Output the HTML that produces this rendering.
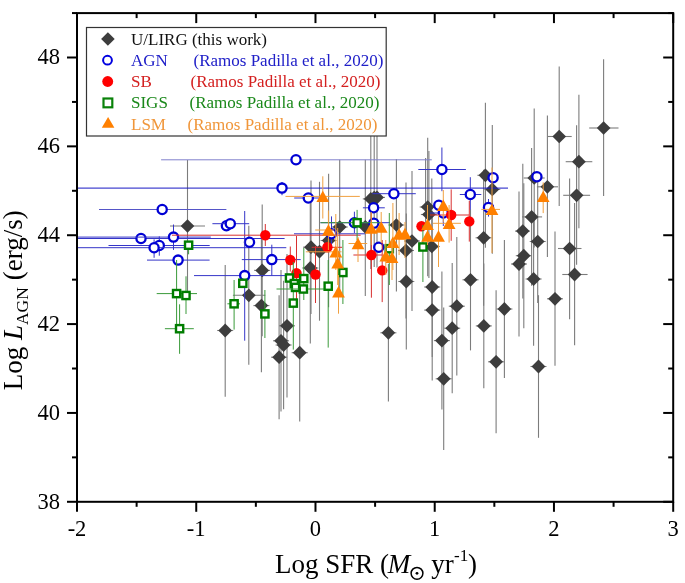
<!DOCTYPE html>
<html><head><meta charset="utf-8"><style>
html,body{margin:0;padding:0;background:#fff;}
svg{display:block;will-change:transform;}
text{font-family:"Liberation Serif",serif;}
.tl{font-size:22.5px;fill:#000;}
.lg{font-size:17px;}
.at{font-size:27px;fill:#000;}
.sub{font-size:17px;}
</style></head><body>
<svg width="685" height="583" viewBox="0 0 685 583">
<rect width="685" height="583" fill="#fff"/>
<g id="data">
<g>
<line x1="187.5" y1="160" x2="187.5" y2="292" stroke="#7c7c7c" stroke-width="1.1"/>
<line x1="170" y1="226" x2="205" y2="226" stroke="#7c7c7c" stroke-width="1.1"/>
<line x1="559.2" y1="66.4" x2="559.2" y2="206" stroke="#7c7c7c" stroke-width="1.1"/>
<line x1="547.7" y1="136.5" x2="571.7" y2="136.5" stroke="#7c7c7c" stroke-width="1.1"/>
<line x1="603.6" y1="59.2" x2="603.6" y2="196" stroke="#7c7c7c" stroke-width="1.1"/>
<line x1="589.2" y1="128" x2="618.5" y2="128" stroke="#7c7c7c" stroke-width="1.1"/>
<line x1="578.9" y1="94.7" x2="578.9" y2="228.3" stroke="#7c7c7c" stroke-width="1.1"/>
<line x1="565.7" y1="161.7" x2="592.3" y2="161.7" stroke="#7c7c7c" stroke-width="1.1"/>
<line x1="576.6" y1="125.2" x2="576.6" y2="264.8" stroke="#7c7c7c" stroke-width="1.1"/>
<line x1="563.2" y1="195.3" x2="590.1" y2="195.3" stroke="#7c7c7c" stroke-width="1.1"/>
<line x1="569.6" y1="178.4" x2="569.6" y2="319.2" stroke="#7c7c7c" stroke-width="1.1"/>
<line x1="558" y1="248.5" x2="581.5" y2="248.5" stroke="#7c7c7c" stroke-width="1.1"/>
<line x1="574.6" y1="202.9" x2="574.6" y2="345.2" stroke="#7c7c7c" stroke-width="1.1"/>
<line x1="562.3" y1="274.5" x2="587.6" y2="274.5" stroke="#7c7c7c" stroke-width="1.1"/>
<line x1="555" y1="231.5" x2="555" y2="365.7" stroke="#7c7c7c" stroke-width="1.1"/>
<line x1="547" y1="298.8" x2="563" y2="298.8" stroke="#7c7c7c" stroke-width="1.1"/>
<line x1="485.4" y1="102.8" x2="485.4" y2="247.8" stroke="#7c7c7c" stroke-width="1.1"/>
<line x1="477.4" y1="175.3" x2="493.4" y2="175.3" stroke="#7c7c7c" stroke-width="1.1"/>
<line x1="492.3" y1="125" x2="492.3" y2="253.8" stroke="#7c7c7c" stroke-width="1.1"/>
<line x1="484.3" y1="189.4" x2="500.3" y2="189.4" stroke="#7c7c7c" stroke-width="1.1"/>
<line x1="534.2" y1="108.6" x2="534.2" y2="247.4" stroke="#7c7c7c" stroke-width="1.1"/>
<line x1="523.7" y1="178" x2="544.7" y2="178" stroke="#7c7c7c" stroke-width="1.1"/>
<line x1="547.4" y1="115.4" x2="547.4" y2="257" stroke="#7c7c7c" stroke-width="1.1"/>
<line x1="536.9" y1="186.8" x2="558" y2="186.8" stroke="#7c7c7c" stroke-width="1.1"/>
<line x1="531.6" y1="148" x2="531.6" y2="285.8" stroke="#7c7c7c" stroke-width="1.1"/>
<line x1="522" y1="216.9" x2="542.1" y2="216.9" stroke="#7c7c7c" stroke-width="1.1"/>
<line x1="522.8" y1="163.7" x2="522.8" y2="298.5" stroke="#7c7c7c" stroke-width="1.1"/>
<line x1="515" y1="231.1" x2="529.9" y2="231.1" stroke="#7c7c7c" stroke-width="1.1"/>
<line x1="537.7" y1="180" x2="537.7" y2="303" stroke="#7c7c7c" stroke-width="1.1"/>
<line x1="529.7" y1="241.5" x2="545.7" y2="241.5" stroke="#7c7c7c" stroke-width="1.1"/>
<line x1="523.8" y1="183.2" x2="523.8" y2="328.2" stroke="#7c7c7c" stroke-width="1.1"/>
<line x1="515.8" y1="255.7" x2="531.8" y2="255.7" stroke="#7c7c7c" stroke-width="1.1"/>
<line x1="519" y1="191.6" x2="519" y2="336.4" stroke="#7c7c7c" stroke-width="1.1"/>
<line x1="511" y1="264" x2="527" y2="264" stroke="#7c7c7c" stroke-width="1.1"/>
<line x1="533.6" y1="212.3" x2="533.6" y2="345.7" stroke="#7c7c7c" stroke-width="1.1"/>
<line x1="525.6" y1="279" x2="541.6" y2="279" stroke="#7c7c7c" stroke-width="1.1"/>
<line x1="483.6" y1="169.8" x2="483.6" y2="305.8" stroke="#7c7c7c" stroke-width="1.1"/>
<line x1="475.6" y1="237.8" x2="491.6" y2="237.8" stroke="#7c7c7c" stroke-width="1.1"/>
<line x1="470.5" y1="209.2" x2="470.5" y2="350.4" stroke="#7c7c7c" stroke-width="1.1"/>
<line x1="462.5" y1="279.8" x2="478.5" y2="279.8" stroke="#7c7c7c" stroke-width="1.1"/>
<line x1="456.8" y1="236.9" x2="456.8" y2="375.5" stroke="#7c7c7c" stroke-width="1.1"/>
<line x1="448.8" y1="306.2" x2="464.8" y2="306.2" stroke="#7c7c7c" stroke-width="1.1"/>
<line x1="452.2" y1="263.1" x2="452.2" y2="393.3" stroke="#7c7c7c" stroke-width="1.1"/>
<line x1="444.2" y1="328.2" x2="460.2" y2="328.2" stroke="#7c7c7c" stroke-width="1.1"/>
<line x1="441.9" y1="271.6" x2="441.9" y2="409.6" stroke="#7c7c7c" stroke-width="1.1"/>
<line x1="433.9" y1="340.6" x2="449.9" y2="340.6" stroke="#7c7c7c" stroke-width="1.1"/>
<line x1="443.7" y1="307.6" x2="443.7" y2="450" stroke="#7c7c7c" stroke-width="1.1"/>
<line x1="435.7" y1="378.8" x2="451.7" y2="378.8" stroke="#7c7c7c" stroke-width="1.1"/>
<line x1="432.2" y1="217" x2="432.2" y2="357" stroke="#7c7c7c" stroke-width="1.1"/>
<line x1="424.2" y1="287" x2="440.2" y2="287" stroke="#7c7c7c" stroke-width="1.1"/>
<line x1="432.2" y1="239.6" x2="432.2" y2="380.6" stroke="#7c7c7c" stroke-width="1.1"/>
<line x1="424.2" y1="310.1" x2="440.2" y2="310.1" stroke="#7c7c7c" stroke-width="1.1"/>
<line x1="504.4" y1="240.1" x2="504.4" y2="377.9" stroke="#7c7c7c" stroke-width="1.1"/>
<line x1="496.4" y1="309" x2="512.4" y2="309" stroke="#7c7c7c" stroke-width="1.1"/>
<line x1="483.8" y1="263.6" x2="483.8" y2="388.2" stroke="#7c7c7c" stroke-width="1.1"/>
<line x1="475.8" y1="325.9" x2="491.8" y2="325.9" stroke="#7c7c7c" stroke-width="1.1"/>
<line x1="496.1" y1="290.3" x2="496.1" y2="433.3" stroke="#7c7c7c" stroke-width="1.1"/>
<line x1="488.1" y1="361.8" x2="504.1" y2="361.8" stroke="#7c7c7c" stroke-width="1.1"/>
<line x1="538.5" y1="295.2" x2="538.5" y2="437.8" stroke="#7c7c7c" stroke-width="1.1"/>
<line x1="530.5" y1="366.5" x2="546.5" y2="366.5" stroke="#7c7c7c" stroke-width="1.1"/>
<line x1="388.4" y1="264" x2="388.4" y2="401.6" stroke="#7c7c7c" stroke-width="1.1"/>
<line x1="380.4" y1="332.8" x2="396.4" y2="332.8" stroke="#7c7c7c" stroke-width="1.1"/>
<line x1="406.3" y1="213.5" x2="406.3" y2="349.5" stroke="#7c7c7c" stroke-width="1.1"/>
<line x1="398.3" y1="281.5" x2="414.3" y2="281.5" stroke="#7c7c7c" stroke-width="1.1"/>
<line x1="406" y1="182.4" x2="406" y2="318.6" stroke="#7c7c7c" stroke-width="1.1"/>
<line x1="398" y1="250.5" x2="414" y2="250.5" stroke="#7c7c7c" stroke-width="1.1"/>
<line x1="412" y1="171" x2="412" y2="311" stroke="#7c7c7c" stroke-width="1.1"/>
<line x1="404" y1="241" x2="420" y2="241" stroke="#7c7c7c" stroke-width="1.1"/>
<line x1="427.7" y1="137.8" x2="427.7" y2="276.2" stroke="#7c7c7c" stroke-width="1.1"/>
<line x1="419.7" y1="207" x2="435.7" y2="207" stroke="#7c7c7c" stroke-width="1.1"/>
<line x1="428.9" y1="150.9" x2="428.9" y2="278" stroke="#7c7c7c" stroke-width="1.1"/>
<line x1="420.9" y1="214.5" x2="436.9" y2="214.5" stroke="#7c7c7c" stroke-width="1.1"/>
<line x1="431.8" y1="178.5" x2="431.8" y2="314.5" stroke="#7c7c7c" stroke-width="1.1"/>
<line x1="423.8" y1="246.5" x2="439.8" y2="246.5" stroke="#7c7c7c" stroke-width="1.1"/>
<line x1="396.4" y1="159.1" x2="396.4" y2="291.4" stroke="#7c7c7c" stroke-width="1.1"/>
<line x1="388.4" y1="225" x2="404.4" y2="225" stroke="#7c7c7c" stroke-width="1.1"/>
<line x1="370.8" y1="128.9" x2="370.8" y2="268.9" stroke="#7c7c7c" stroke-width="1.1"/>
<line x1="362.8" y1="198.9" x2="378.8" y2="198.9" stroke="#7c7c7c" stroke-width="1.1"/>
<line x1="377" y1="127.4" x2="377" y2="267.4" stroke="#7c7c7c" stroke-width="1.1"/>
<line x1="369" y1="197.4" x2="385" y2="197.4" stroke="#7c7c7c" stroke-width="1.1"/>
<line x1="374.2" y1="128" x2="374.2" y2="267" stroke="#7c7c7c" stroke-width="1.1"/>
<line x1="366.2" y1="197.6" x2="382.2" y2="197.6" stroke="#7c7c7c" stroke-width="1.1"/>
<line x1="365.3" y1="159.7" x2="365.3" y2="296.1" stroke="#7c7c7c" stroke-width="1.1"/>
<line x1="357.3" y1="226.8" x2="373.3" y2="226.8" stroke="#7c7c7c" stroke-width="1.1"/>
<line x1="339.7" y1="159.7" x2="339.7" y2="294.3" stroke="#7c7c7c" stroke-width="1.1"/>
<line x1="331.7" y1="227" x2="347.7" y2="227" stroke="#7c7c7c" stroke-width="1.1"/>
<line x1="328.6" y1="173.8" x2="328.6" y2="307.2" stroke="#7c7c7c" stroke-width="1.1"/>
<line x1="320.6" y1="240.5" x2="336.6" y2="240.5" stroke="#7c7c7c" stroke-width="1.1"/>
<line x1="311" y1="180.4" x2="311" y2="314" stroke="#7c7c7c" stroke-width="1.1"/>
<line x1="303" y1="247.2" x2="319" y2="247.2" stroke="#7c7c7c" stroke-width="1.1"/>
<line x1="319.5" y1="181.8" x2="319.5" y2="320.7" stroke="#7c7c7c" stroke-width="1.1"/>
<line x1="311.5" y1="251.6" x2="327.5" y2="251.6" stroke="#7c7c7c" stroke-width="1.1"/>
<line x1="310.3" y1="192.6" x2="310.3" y2="343.4" stroke="#7c7c7c" stroke-width="1.1"/>
<line x1="302.3" y1="268" x2="318.3" y2="268" stroke="#7c7c7c" stroke-width="1.1"/>
<line x1="262.2" y1="204.5" x2="262.2" y2="336.3" stroke="#7c7c7c" stroke-width="1.1"/>
<line x1="254.2" y1="270.4" x2="270.2" y2="270.4" stroke="#7c7c7c" stroke-width="1.1"/>
<line x1="248.8" y1="225.8" x2="248.8" y2="364.8" stroke="#7c7c7c" stroke-width="1.1"/>
<line x1="232.9" y1="295.3" x2="265.3" y2="295.3" stroke="#7c7c7c" stroke-width="1.1"/>
<line x1="261.4" y1="239" x2="261.4" y2="372.2" stroke="#7c7c7c" stroke-width="1.1"/>
<line x1="253.39999999999998" y1="305.6" x2="269.4" y2="305.6" stroke="#7c7c7c" stroke-width="1.1"/>
<line x1="287" y1="254.1" x2="287" y2="397.5" stroke="#7c7c7c" stroke-width="1.1"/>
<line x1="279" y1="325.8" x2="295" y2="325.8" stroke="#7c7c7c" stroke-width="1.1"/>
<line x1="281" y1="270.1" x2="281" y2="411.5" stroke="#7c7c7c" stroke-width="1.1"/>
<line x1="273" y1="340.8" x2="289" y2="340.8" stroke="#7c7c7c" stroke-width="1.1"/>
<line x1="283.6" y1="280.8" x2="283.6" y2="409.2" stroke="#7c7c7c" stroke-width="1.1"/>
<line x1="275.6" y1="345" x2="291.6" y2="345" stroke="#7c7c7c" stroke-width="1.1"/>
<line x1="279.1" y1="295.2" x2="279.1" y2="419.3" stroke="#7c7c7c" stroke-width="1.1"/>
<line x1="271.1" y1="357.2" x2="287.1" y2="357.2" stroke="#7c7c7c" stroke-width="1.1"/>
<line x1="299.7" y1="283.8" x2="299.7" y2="421.6" stroke="#7c7c7c" stroke-width="1.1"/>
<line x1="291.7" y1="352.7" x2="307.7" y2="352.7" stroke="#7c7c7c" stroke-width="1.1"/>
<line x1="225.2" y1="265" x2="225.2" y2="396.7" stroke="#7c7c7c" stroke-width="1.1"/>
<line x1="217.2" y1="330.5" x2="233.2" y2="330.5" stroke="#7c7c7c" stroke-width="1.1"/>
<line x1="425.6" y1="158" x2="425.6" y2="226" stroke="#7c7c7c" stroke-width="1.1"/>
<path d="M187.5 219.2L194.3 226L187.5 232.8L180.7 226Z" fill="#3d3d3d"/>
<path d="M559.2 129.7L566.1 136.5L559.2 143.3L552.4 136.5Z" fill="#3d3d3d"/>
<path d="M603.6 121.2L610.5 128L603.6 134.8L596.8 128Z" fill="#3d3d3d"/>
<path d="M578.9 154.8L585.8 161.7L578.9 168.5L572.0 161.7Z" fill="#3d3d3d"/>
<path d="M576.6 188.5L583.5 195.3L576.6 202.2L569.8 195.3Z" fill="#3d3d3d"/>
<path d="M569.6 241.7L576.5 248.5L569.6 255.3L562.8 248.5Z" fill="#3d3d3d"/>
<path d="M574.6 267.6L581.5 274.5L574.6 281.4L567.8 274.5Z" fill="#3d3d3d"/>
<path d="M555 291.9L561.9 298.8L555 305.7L548.1 298.8Z" fill="#3d3d3d"/>
<path d="M485.4 168.5L492.2 175.3L485.4 182.2L478.5 175.3Z" fill="#3d3d3d"/>
<path d="M492.3 182.6L499.2 189.4L492.3 196.2L485.4 189.4Z" fill="#3d3d3d"/>
<path d="M534.2 171.2L541.1 178L534.2 184.8L527.4 178Z" fill="#3d3d3d"/>
<path d="M547.4 180.0L554.2 186.8L547.4 193.7L540.5 186.8Z" fill="#3d3d3d"/>
<path d="M531.6 210.1L538.5 216.9L531.6 223.8L524.8 216.9Z" fill="#3d3d3d"/>
<path d="M522.8 224.2L529.6 231.1L522.8 237.9L515.9 231.1Z" fill="#3d3d3d"/>
<path d="M537.7 234.7L544.6 241.5L537.7 248.3L530.9 241.5Z" fill="#3d3d3d"/>
<path d="M523.8 248.8L530.6 255.7L523.8 262.6L516.9 255.7Z" fill="#3d3d3d"/>
<path d="M519 257.1L525.9 264L519 270.9L512.1 264Z" fill="#3d3d3d"/>
<path d="M533.6 272.1L540.5 279L533.6 285.9L526.8 279Z" fill="#3d3d3d"/>
<path d="M483.6 231.0L490.5 237.8L483.6 244.7L476.8 237.8Z" fill="#3d3d3d"/>
<path d="M470.5 272.9L477.4 279.8L470.5 286.7L463.6 279.8Z" fill="#3d3d3d"/>
<path d="M456.8 299.3L463.7 306.2L456.8 313.1L449.9 306.2Z" fill="#3d3d3d"/>
<path d="M452.2 321.3L459.1 328.2L452.2 335.1L445.3 328.2Z" fill="#3d3d3d"/>
<path d="M441.9 333.8L448.8 340.6L441.9 347.5L435.0 340.6Z" fill="#3d3d3d"/>
<path d="M443.7 371.9L450.6 378.8L443.7 385.7L436.8 378.8Z" fill="#3d3d3d"/>
<path d="M432.2 280.1L439.1 287L432.2 293.9L425.3 287Z" fill="#3d3d3d"/>
<path d="M432.2 303.2L439.1 310.1L432.2 317.0L425.3 310.1Z" fill="#3d3d3d"/>
<path d="M504.4 302.1L511.2 309L504.4 315.9L497.5 309Z" fill="#3d3d3d"/>
<path d="M483.8 319.0L490.7 325.9L483.8 332.8L476.9 325.9Z" fill="#3d3d3d"/>
<path d="M496.1 354.9L503.0 361.8L496.1 368.7L489.2 361.8Z" fill="#3d3d3d"/>
<path d="M538.5 359.6L545.4 366.5L538.5 373.4L531.6 366.5Z" fill="#3d3d3d"/>
<path d="M388.4 325.9L395.2 332.8L388.4 339.7L381.5 332.8Z" fill="#3d3d3d"/>
<path d="M406.3 274.6L413.2 281.5L406.3 288.4L399.4 281.5Z" fill="#3d3d3d"/>
<path d="M406 243.7L412.9 250.5L406 257.4L399.1 250.5Z" fill="#3d3d3d"/>
<path d="M412 234.2L418.9 241L412 247.8L405.1 241Z" fill="#3d3d3d"/>
<path d="M427.7 200.2L434.6 207L427.7 213.8L420.8 207Z" fill="#3d3d3d"/>
<path d="M428.9 207.7L435.8 214.5L428.9 221.3L422.0 214.5Z" fill="#3d3d3d"/>
<path d="M431.8 239.7L438.7 246.5L431.8 253.3L424.9 246.5Z" fill="#3d3d3d"/>
<path d="M396.4 218.2L403.2 225L396.4 231.8L389.5 225Z" fill="#3d3d3d"/>
<path d="M370.8 192.1L377.7 198.9L370.8 205.8L363.9 198.9Z" fill="#3d3d3d"/>
<path d="M377 190.6L383.9 197.4L377 204.2L370.1 197.4Z" fill="#3d3d3d"/>
<path d="M374.2 190.8L381.1 197.6L374.2 204.4L367.3 197.6Z" fill="#3d3d3d"/>
<path d="M365.3 220.0L372.2 226.8L365.3 233.7L358.4 226.8Z" fill="#3d3d3d"/>
<path d="M339.7 220.2L346.6 227L339.7 233.8L332.8 227Z" fill="#3d3d3d"/>
<path d="M328.6 233.7L335.5 240.5L328.6 247.3L321.8 240.5Z" fill="#3d3d3d"/>
<path d="M311 240.3L317.9 247.2L311 254.0L304.1 247.2Z" fill="#3d3d3d"/>
<path d="M319.5 244.8L326.4 251.6L319.5 258.4L312.6 251.6Z" fill="#3d3d3d"/>
<path d="M310.3 261.1L317.2 268L310.3 274.9L303.4 268Z" fill="#3d3d3d"/>
<path d="M262.2 263.5L269.1 270.4L262.2 277.2L255.3 270.4Z" fill="#3d3d3d"/>
<path d="M248.8 288.4L255.7 295.3L248.8 302.2L242.0 295.3Z" fill="#3d3d3d"/>
<path d="M261.4 298.8L268.2 305.6L261.4 312.5L254.5 305.6Z" fill="#3d3d3d"/>
<path d="M287 318.9L293.9 325.8L287 332.7L280.1 325.8Z" fill="#3d3d3d"/>
<path d="M281 333.9L287.9 340.8L281 347.7L274.1 340.8Z" fill="#3d3d3d"/>
<path d="M283.6 338.1L290.5 345L283.6 351.9L276.8 345Z" fill="#3d3d3d"/>
<path d="M279.1 350.3L286.0 357.2L279.1 364.1L272.2 357.2Z" fill="#3d3d3d"/>
<path d="M299.7 345.8L306.6 352.7L299.7 359.6L292.8 352.7Z" fill="#3d3d3d"/>
<path d="M225.2 323.6L232.0 330.5L225.2 337.4L218.3 330.5Z" fill="#3d3d3d"/>
</g>
<g>
<line x1="161.1" y1="159.8" x2="431.8" y2="159.8" stroke="#8080cc" stroke-width="1.0"/>
<circle cx="296" cy="159.8" r="4.6" fill="#fff" stroke="#0000d4" stroke-width="2.3"/>
<line x1="282" y1="182" x2="282" y2="195.2" stroke="#1818c4" stroke-width="1.0"/>
<line x1="77" y1="188.1" x2="508" y2="188.1" stroke="#1818c4" stroke-width="1.0"/>
<circle cx="282" cy="188.1" r="4.6" fill="#fff" stroke="#0000d4" stroke-width="2.3"/>
<line x1="294.2" y1="198" x2="322" y2="198" stroke="#3535c8" stroke-width="1.0"/>
<circle cx="308.3" cy="198" r="4.6" fill="#fff" stroke="#0000d4" stroke-width="2.3"/>
<line x1="99" y1="209.5" x2="226.4" y2="209.5" stroke="#5555c8" stroke-width="1.0"/>
<circle cx="162.2" cy="209.5" r="4.6" fill="#fff" stroke="#0000d4" stroke-width="2.3"/>
<circle cx="226.4" cy="225.8" r="4.6" fill="#fff" stroke="#0000d4" stroke-width="2.3"/>
<line x1="212.4" y1="223.7" x2="249.2" y2="223.7" stroke="#3535c8" stroke-width="1.0"/>
<circle cx="230.3" cy="223.7" r="4.6" fill="#fff" stroke="#0000d4" stroke-width="2.3"/>
<line x1="77" y1="238.5" x2="284.6" y2="238.5" stroke="#3535c8" stroke-width="1.0"/>
<circle cx="141" cy="238.5" r="4.6" fill="#fff" stroke="#0000d4" stroke-width="2.3"/>
<line x1="173.5" y1="224.5" x2="173.5" y2="249.9" stroke="#3535c8" stroke-width="1.0"/>
<line x1="77" y1="237.1" x2="210.8" y2="237.1" stroke="#3535c8" stroke-width="1.0"/>
<circle cx="173.5" cy="237.1" r="4.6" fill="#fff" stroke="#0000d4" stroke-width="2.3"/>
<line x1="159.3" y1="236.4" x2="159.3" y2="255.7" stroke="#3535c8" stroke-width="1.0"/>
<line x1="108.5" y1="245.5" x2="209.7" y2="245.5" stroke="#3535c8" stroke-width="1.0"/>
<circle cx="159.3" cy="245.5" r="4.6" fill="#fff" stroke="#0000d4" stroke-width="2.3"/>
<line x1="154.1" y1="239.4" x2="154.1" y2="257.8" stroke="#3535c8" stroke-width="1.0"/>
<line x1="77" y1="247.7" x2="286.3" y2="247.7" stroke="#3535c8" stroke-width="1.0"/>
<circle cx="154.1" cy="247.7" r="4.6" fill="#fff" stroke="#0000d4" stroke-width="2.3"/>
<line x1="147" y1="260.1" x2="209.6" y2="260.1" stroke="#3535c8" stroke-width="1.0"/>
<circle cx="178.1" cy="260.1" r="4.6" fill="#fff" stroke="#0000d4" stroke-width="2.3"/>
<circle cx="249.5" cy="242.3" r="4.6" fill="#fff" stroke="#0000d4" stroke-width="2.3"/>
<line x1="271.8" y1="244.7" x2="271.8" y2="275.6" stroke="#3535c8" stroke-width="1.0"/>
<line x1="241.8" y1="259.6" x2="300.7" y2="259.6" stroke="#3535c8" stroke-width="1.0"/>
<circle cx="271.8" cy="259.6" r="4.6" fill="#fff" stroke="#0000d4" stroke-width="2.3"/>
<line x1="244.7" y1="211" x2="244.7" y2="340.7" stroke="#3535c8" stroke-width="1.0"/>
<line x1="194" y1="275.6" x2="286.7" y2="275.6" stroke="#3535c8" stroke-width="1.0"/>
<circle cx="244.7" cy="275.6" r="4.6" fill="#fff" stroke="#0000d4" stroke-width="2.3"/>
<line x1="362.9" y1="207.8" x2="384.8" y2="207.8" stroke="#3535c8" stroke-width="1.0"/>
<circle cx="373.6" cy="207.8" r="4.6" fill="#fff" stroke="#0000d4" stroke-width="2.3"/>
<line x1="372.3" y1="193.7" x2="415.8" y2="193.7" stroke="#3535c8" stroke-width="1.0"/>
<circle cx="393.9" cy="193.7" r="4.6" fill="#fff" stroke="#0000d4" stroke-width="2.3"/>
<line x1="354.4" y1="211.7" x2="354.4" y2="233" stroke="#3535c8" stroke-width="1.0"/>
<line x1="320.4" y1="222.7" x2="390" y2="222.7" stroke="#3535c8" stroke-width="1.0"/>
<circle cx="354.4" cy="222.7" r="4.6" fill="#fff" stroke="#0000d4" stroke-width="2.3"/>
<circle cx="373.8" cy="223.3" r="4.6" fill="#fff" stroke="#0000d4" stroke-width="2.3"/>
<circle cx="378.8" cy="247.2" r="4.6" fill="#fff" stroke="#0000d4" stroke-width="2.3"/>
<line x1="331.5" y1="216.4" x2="331.5" y2="250" stroke="#3535c8" stroke-width="1.0"/>
<line x1="294" y1="233.8" x2="365.4" y2="233.8" stroke="#3535c8" stroke-width="1.0"/>
<circle cx="331.5" cy="233.8" r="4.6" fill="#fff" stroke="#0000d4" stroke-width="2.3"/>
<line x1="441.9" y1="147.5" x2="441.9" y2="191.2" stroke="#3535c8" stroke-width="1.0"/>
<line x1="418.3" y1="169.5" x2="465.9" y2="169.5" stroke="#3535c8" stroke-width="1.0"/>
<circle cx="441.9" cy="169.5" r="4.6" fill="#fff" stroke="#0000d4" stroke-width="2.3"/>
<line x1="470.3" y1="177.2" x2="470.3" y2="209.6" stroke="#3535c8" stroke-width="1.0"/>
<line x1="459.8" y1="194.5" x2="481.3" y2="194.5" stroke="#3535c8" stroke-width="1.0"/>
<circle cx="470.3" cy="194.5" r="4.6" fill="#fff" stroke="#0000d4" stroke-width="2.3"/>
<circle cx="493.1" cy="177.8" r="4.6" fill="#fff" stroke="#0000d4" stroke-width="2.3"/>
<circle cx="536.9" cy="176.8" r="4.6" fill="#fff" stroke="#0000d4" stroke-width="2.3"/>
<circle cx="438.8" cy="205.2" r="4.6" fill="#fff" stroke="#0000d4" stroke-width="2.3"/>
<line x1="443.3" y1="205" x2="443.3" y2="226" stroke="#3535c8" stroke-width="1.0"/>
<line x1="430" y1="213" x2="456" y2="213" stroke="#3535c8" stroke-width="1.0"/>
<circle cx="443.3" cy="213" r="4.6" fill="#fff" stroke="#0000d4" stroke-width="2.3"/>
<line x1="488.5" y1="199" x2="488.5" y2="216.6" stroke="#3535c8" stroke-width="1.0"/>
<circle cx="488.5" cy="207.5" r="4.6" fill="#fff" stroke="#0000d4" stroke-width="2.3"/>
</g>
<g>
<line x1="265.3" y1="224" x2="265.3" y2="246" stroke="#d83030" stroke-width="1.0"/>
<line x1="172" y1="235.2" x2="360.7" y2="235.2" stroke="#d83030" stroke-width="1.0"/>
<circle cx="265.3" cy="235.2" r="5.2" fill="#ff0000"/>
<line x1="290.3" y1="246.5" x2="290.3" y2="271.5" stroke="#d83030" stroke-width="1.0"/>
<circle cx="290.3" cy="260" r="5.2" fill="#ff0000"/>
<line x1="296.5" y1="236" x2="296.5" y2="300" stroke="#d83030" stroke-width="1.0"/>
<circle cx="296.5" cy="273.1" r="5.2" fill="#ff0000"/>
<line x1="315.5" y1="246" x2="315.5" y2="303" stroke="#d83030" stroke-width="1.0"/>
<circle cx="315.5" cy="274.5" r="5.2" fill="#ff0000"/>
<line x1="311.7" y1="247.3" x2="342" y2="247.3" stroke="#d83030" stroke-width="1.0"/>
<circle cx="327.4" cy="247.3" r="5.2" fill="#ff0000"/>
<line x1="371.4" y1="213" x2="371.4" y2="297.7" stroke="#d83030" stroke-width="1.0"/>
<line x1="353.4" y1="255" x2="382.3" y2="255" stroke="#d83030" stroke-width="1.0"/>
<circle cx="371.4" cy="255" r="5.2" fill="#ff0000"/>
<line x1="382.2" y1="240" x2="382.2" y2="302.1" stroke="#d83030" stroke-width="1.0"/>
<circle cx="382.2" cy="270.4" r="5.2" fill="#ff0000"/>
<circle cx="421.5" cy="226.3" r="5.2" fill="#ff0000"/>
<line x1="451.2" y1="189.4" x2="451.2" y2="240.8" stroke="#d83030" stroke-width="1.0"/>
<line x1="430" y1="215" x2="469" y2="215" stroke="#d83030" stroke-width="1.0"/>
<circle cx="451.2" cy="215" r="5.2" fill="#ff0000"/>
<line x1="469.3" y1="200.8" x2="469.3" y2="241.6" stroke="#d83030" stroke-width="1.0"/>
<circle cx="469.3" cy="221.4" r="5.2" fill="#ff0000"/>
</g>
<g>
<line x1="188.6" y1="245.2" x2="188.6" y2="254.3" stroke="#3a9a3a" stroke-width="1.0"/>
<rect x="185.00" y="241.60" width="7.2" height="7.2" fill="#fff" stroke="#007d00" stroke-width="2.4"/>
<line x1="176.6" y1="260" x2="176.6" y2="325" stroke="#3a9a3a" stroke-width="1.0"/>
<line x1="156.7" y1="293.6" x2="197" y2="293.6" stroke="#3a9a3a" stroke-width="1.0"/>
<rect x="173.00" y="290.00" width="7.2" height="7.2" fill="#fff" stroke="#007d00" stroke-width="2.4"/>
<line x1="186" y1="276.3" x2="186" y2="314" stroke="#3a9a3a" stroke-width="1.0"/>
<rect x="182.40" y="291.90" width="7.2" height="7.2" fill="#fff" stroke="#007d00" stroke-width="2.4"/>
<line x1="179.6" y1="304.3" x2="179.6" y2="353.8" stroke="#3a9a3a" stroke-width="1.0"/>
<line x1="164.9" y1="328.7" x2="193.8" y2="328.7" stroke="#3a9a3a" stroke-width="1.0"/>
<rect x="176.00" y="325.10" width="7.2" height="7.2" fill="#fff" stroke="#007d00" stroke-width="2.4"/>
<rect x="239.20" y="279.70" width="7.2" height="7.2" fill="#fff" stroke="#007d00" stroke-width="2.4"/>
<line x1="234.1" y1="280" x2="234.1" y2="329.6" stroke="#3a9a3a" stroke-width="1.0"/>
<line x1="227.4" y1="303.8" x2="240" y2="303.8" stroke="#3a9a3a" stroke-width="1.0"/>
<rect x="230.50" y="300.20" width="7.2" height="7.2" fill="#fff" stroke="#007d00" stroke-width="2.4"/>
<line x1="264.9" y1="290" x2="264.9" y2="338" stroke="#3a9a3a" stroke-width="1.0"/>
<rect x="261.30" y="310.30" width="7.2" height="7.2" fill="#fff" stroke="#007d00" stroke-width="2.4"/>
<line x1="293.3" y1="262" x2="293.3" y2="349.6" stroke="#3a9a3a" stroke-width="1.0"/>
<rect x="289.70" y="299.50" width="7.2" height="7.2" fill="#fff" stroke="#007d00" stroke-width="2.4"/>
<rect x="285.90" y="274.40" width="7.2" height="7.2" fill="#fff" stroke="#007d00" stroke-width="2.4"/>
<rect x="290.70" y="280.00" width="7.2" height="7.2" fill="#fff" stroke="#007d00" stroke-width="2.4"/>
<rect x="291.90" y="283.80" width="7.2" height="7.2" fill="#fff" stroke="#007d00" stroke-width="2.4"/>
<line x1="303.8" y1="248" x2="303.8" y2="300" stroke="#3a9a3a" stroke-width="1.0"/>
<rect x="300.20" y="275.00" width="7.2" height="7.2" fill="#fff" stroke="#007d00" stroke-width="2.4"/>
<line x1="276.5" y1="289" x2="330" y2="289" stroke="#3a9a3a" stroke-width="1.0"/>
<rect x="299.80" y="285.40" width="7.2" height="7.2" fill="#fff" stroke="#007d00" stroke-width="2.4"/>
<line x1="328.2" y1="260" x2="328.2" y2="347.6" stroke="#3a9a3a" stroke-width="1.0"/>
<rect x="324.60" y="282.60" width="7.2" height="7.2" fill="#fff" stroke="#007d00" stroke-width="2.4"/>
<line x1="342.9" y1="240" x2="342.9" y2="304" stroke="#3a9a3a" stroke-width="1.0"/>
<rect x="339.30" y="268.90" width="7.2" height="7.2" fill="#fff" stroke="#007d00" stroke-width="2.4"/>
<line x1="357.1" y1="209.9" x2="357.1" y2="240" stroke="#3a9a3a" stroke-width="1.0"/>
<line x1="320.6" y1="222.7" x2="380" y2="222.7" stroke="#3a9a3a" stroke-width="1.0"/>
<rect x="353.50" y="219.10" width="7.2" height="7.2" fill="#fff" stroke="#007d00" stroke-width="2.4"/>
<line x1="389.3" y1="213" x2="389.3" y2="285" stroke="#3a9a3a" stroke-width="1.0"/>
<rect x="385.70" y="245.10" width="7.2" height="7.2" fill="#fff" stroke="#007d00" stroke-width="2.4"/>
<line x1="422.9" y1="225" x2="422.9" y2="282" stroke="#3a9a3a" stroke-width="1.0"/>
<rect x="419.30" y="243.40" width="7.2" height="7.2" fill="#fff" stroke="#007d00" stroke-width="2.4"/>
</g>
<g>
<line x1="322.8" y1="176.3" x2="322.8" y2="218.5" stroke="#f0a040" stroke-width="1.0"/>
<line x1="285.5" y1="196.4" x2="359.8" y2="196.4" stroke="#f0a040" stroke-width="1.0"/>
<path d="M322.8 190.7L329.2 202.1L316.4 202.1Z" fill="#ff8000"/>
<line x1="328.4" y1="210.5" x2="328.4" y2="250" stroke="#f0a040" stroke-width="1.0"/>
<line x1="315.2" y1="230" x2="333.9" y2="230" stroke="#f0a040" stroke-width="1.0"/>
<path d="M328.4 224.3L334.8 235.7L322.0 235.7Z" fill="#ff8000"/>
<line x1="335.8" y1="214" x2="335.8" y2="270" stroke="#f0a040" stroke-width="1.0"/>
<line x1="305.8" y1="251.8" x2="341.5" y2="251.8" stroke="#f0a040" stroke-width="1.0"/>
<path d="M335.8 246.1L342.2 257.5L329.4 257.5Z" fill="#ff8000"/>
<line x1="337.7" y1="228" x2="337.7" y2="285" stroke="#f0a040" stroke-width="1.0"/>
<path d="M337.7 257.0L344.1 268.4L331.3 268.4Z" fill="#ff8000"/>
<line x1="338.5" y1="275" x2="338.5" y2="313.7" stroke="#f0a040" stroke-width="1.0"/>
<path d="M338.5 286.1L344.9 297.5L332.1 297.5Z" fill="#ff8000"/>
<line x1="358" y1="237" x2="358" y2="262" stroke="#f0a040" stroke-width="1.0"/>
<line x1="348.5" y1="243.5" x2="367.2" y2="243.5" stroke="#f0a040" stroke-width="1.0"/>
<path d="M358 237.8L364.4 249.2L351.6 249.2Z" fill="#ff8000"/>
<line x1="371.2" y1="212" x2="371.2" y2="245" stroke="#f0a040" stroke-width="1.0"/>
<path d="M371.2 222.3L377.6 233.7L364.8 233.7Z" fill="#ff8000"/>
<line x1="381.2" y1="212" x2="381.2" y2="243" stroke="#f0a040" stroke-width="1.0"/>
<path d="M381.2 221.3L387.6 232.7L374.8 232.7Z" fill="#ff8000"/>
<line x1="399.1" y1="213" x2="399.1" y2="255" stroke="#f0a040" stroke-width="1.0"/>
<path d="M399.1 228.3L405.5 239.7L392.7 239.7Z" fill="#ff8000"/>
<line x1="405" y1="222" x2="405" y2="258" stroke="#f0a040" stroke-width="1.0"/>
<path d="M405 227.8L411.4 239.2L398.6 239.2Z" fill="#ff8000"/>
<line x1="392.9" y1="203" x2="392.9" y2="270" stroke="#f0a040" stroke-width="1.0"/>
<path d="M392.9 236.5L399.3 247.9L386.5 247.9Z" fill="#ff8000"/>
<line x1="385.8" y1="240" x2="385.8" y2="275" stroke="#f0a040" stroke-width="1.0"/>
<path d="M385.8 250.0L392.2 261.4L379.4 261.4Z" fill="#ff8000"/>
<line x1="392" y1="240" x2="392" y2="280" stroke="#f0a040" stroke-width="1.0"/>
<path d="M392 251.7L398.4 263.1L385.6 263.1Z" fill="#ff8000"/>
<line x1="427.5" y1="205" x2="427.5" y2="245" stroke="#f0a040" stroke-width="1.0"/>
<path d="M427.5 218.7L433.9 230.1L421.1 230.1Z" fill="#ff8000"/>
<path d="M427.5 230.3L433.9 241.7L421.1 241.7Z" fill="#ff8000"/>
<line x1="438.5" y1="215" x2="438.5" y2="267" stroke="#f0a040" stroke-width="1.0"/>
<path d="M438.5 230.3L444.9 241.7L432.1 241.7Z" fill="#ff8000"/>
<line x1="443.3" y1="190" x2="443.3" y2="222" stroke="#f0a040" stroke-width="1.0"/>
<path d="M443.3 199.5L449.7 210.9L436.9 210.9Z" fill="#ff8000"/>
<line x1="449.1" y1="205" x2="449.1" y2="242.6" stroke="#f0a040" stroke-width="1.0"/>
<line x1="432.8" y1="223.3" x2="460.9" y2="223.3" stroke="#f0a040" stroke-width="1.0"/>
<path d="M449.1 217.6L455.5 229.0L442.7 229.0Z" fill="#ff8000"/>
<line x1="492" y1="167.5" x2="492" y2="253" stroke="#f0a040" stroke-width="1.0"/>
<line x1="481.3" y1="209.4" x2="500" y2="209.4" stroke="#f0a040" stroke-width="1.0"/>
<path d="M492 203.7L498.4 215.1L485.6 215.1Z" fill="#ff8000"/>
<line x1="543.2" y1="182.4" x2="543.2" y2="213.1" stroke="#f0a040" stroke-width="1.0"/>
<path d="M543.2 190.7L549.6 202.1L536.8 202.1Z" fill="#ff8000"/>
</g>
</g>

<rect x="86.5" y="27.5" width="299.7" height="108.5" fill="#fff" stroke="#333" stroke-width="1.2"/>
<path d="M107.9 32.2 L114.7 39 L107.9 45.8 L101.1 39 Z" fill="#3d3d3d"/>
<circle cx="107.5" cy="60.2" r="4.4" fill="none" stroke="#0000e0" stroke-width="2"/>
<circle cx="107.7" cy="81.5" r="5.45" fill="#ff0000"/>
<rect x="103.5" y="98.5" width="8.8" height="8.8" fill="none" stroke="#0a820a" stroke-width="2.2"/>
<path d="M108.1 117 L114.4 127.8 L101.8 127.8 Z" fill="#ff8000"/>
<text x="131" y="44.5" class="lg" fill="#111">U/LIRG (this work)</text>
<text x="131" y="65.8" class="lg" fill="#2020c8">AGN</text>
<text x="193.5" y="65.8" class="lg" fill="#2020c8">(Ramos Padilla et al., 2020)</text>
<text x="131" y="87.1" class="lg" fill="#d42020">SB</text>
<text x="190.5" y="87.1" class="lg" fill="#d42020">(Ramos Padilla et al., 2020)</text>
<text x="131" y="108.4" class="lg" fill="#1a881a">SIGS</text>
<text x="189.5" y="108.4" class="lg" fill="#1a881a">(Ramos Padilla et al., 2020)</text>
<text x="131" y="129.6" class="lg" fill="#f0963a">LSM</text>
<text x="187.5" y="129.6" class="lg" fill="#f0963a">(Ramos Padilla et al., 2020)</text>

<rect x="77" y="13.1" width="596.2" height="488.7" fill="none" stroke="#000" stroke-width="2"/>
<line x1="77.00" y1="501.8" x2="77.00" y2="511.8" stroke="#000" stroke-width="2"/>
<line x1="77.00" y1="13.1" x2="77.00" y2="23.1" stroke="#000" stroke-width="2"/>
<line x1="136.62" y1="501.8" x2="136.62" y2="506.8" stroke="#000" stroke-width="2"/>
<line x1="136.62" y1="13.1" x2="136.62" y2="18.1" stroke="#000" stroke-width="2"/>
<line x1="196.24" y1="501.8" x2="196.24" y2="511.8" stroke="#000" stroke-width="2"/>
<line x1="196.24" y1="13.1" x2="196.24" y2="23.1" stroke="#000" stroke-width="2"/>
<line x1="255.86" y1="501.8" x2="255.86" y2="506.8" stroke="#000" stroke-width="2"/>
<line x1="255.86" y1="13.1" x2="255.86" y2="18.1" stroke="#000" stroke-width="2"/>
<line x1="315.48" y1="501.8" x2="315.48" y2="511.8" stroke="#000" stroke-width="2"/>
<line x1="315.48" y1="13.1" x2="315.48" y2="23.1" stroke="#000" stroke-width="2"/>
<line x1="375.10" y1="501.8" x2="375.10" y2="506.8" stroke="#000" stroke-width="2"/>
<line x1="375.10" y1="13.1" x2="375.10" y2="18.1" stroke="#000" stroke-width="2"/>
<line x1="434.72" y1="501.8" x2="434.72" y2="511.8" stroke="#000" stroke-width="2"/>
<line x1="434.72" y1="13.1" x2="434.72" y2="23.1" stroke="#000" stroke-width="2"/>
<line x1="494.34" y1="501.8" x2="494.34" y2="506.8" stroke="#000" stroke-width="2"/>
<line x1="494.34" y1="13.1" x2="494.34" y2="18.1" stroke="#000" stroke-width="2"/>
<line x1="553.96" y1="501.8" x2="553.96" y2="511.8" stroke="#000" stroke-width="2"/>
<line x1="553.96" y1="13.1" x2="553.96" y2="23.1" stroke="#000" stroke-width="2"/>
<line x1="613.58" y1="501.8" x2="613.58" y2="506.8" stroke="#000" stroke-width="2"/>
<line x1="613.58" y1="13.1" x2="613.58" y2="18.1" stroke="#000" stroke-width="2"/>
<line x1="673.20" y1="501.8" x2="673.20" y2="511.8" stroke="#000" stroke-width="2"/>
<line x1="673.20" y1="13.1" x2="673.20" y2="23.1" stroke="#000" stroke-width="2"/>
<line x1="67" y1="501.80" x2="77" y2="501.80" stroke="#000" stroke-width="2"/>
<line x1="663.2" y1="501.80" x2="673.2" y2="501.80" stroke="#000" stroke-width="2"/>
<line x1="72" y1="457.37" x2="77" y2="457.37" stroke="#000" stroke-width="2"/>
<line x1="668.2" y1="457.37" x2="673.2" y2="457.37" stroke="#000" stroke-width="2"/>
<line x1="67" y1="412.94" x2="77" y2="412.94" stroke="#000" stroke-width="2"/>
<line x1="663.2" y1="412.94" x2="673.2" y2="412.94" stroke="#000" stroke-width="2"/>
<line x1="72" y1="368.51" x2="77" y2="368.51" stroke="#000" stroke-width="2"/>
<line x1="668.2" y1="368.51" x2="673.2" y2="368.51" stroke="#000" stroke-width="2"/>
<line x1="67" y1="324.08" x2="77" y2="324.08" stroke="#000" stroke-width="2"/>
<line x1="663.2" y1="324.08" x2="673.2" y2="324.08" stroke="#000" stroke-width="2"/>
<line x1="72" y1="279.65" x2="77" y2="279.65" stroke="#000" stroke-width="2"/>
<line x1="668.2" y1="279.65" x2="673.2" y2="279.65" stroke="#000" stroke-width="2"/>
<line x1="67" y1="235.22" x2="77" y2="235.22" stroke="#000" stroke-width="2"/>
<line x1="663.2" y1="235.22" x2="673.2" y2="235.22" stroke="#000" stroke-width="2"/>
<line x1="72" y1="190.79" x2="77" y2="190.79" stroke="#000" stroke-width="2"/>
<line x1="668.2" y1="190.79" x2="673.2" y2="190.79" stroke="#000" stroke-width="2"/>
<line x1="67" y1="146.36" x2="77" y2="146.36" stroke="#000" stroke-width="2"/>
<line x1="663.2" y1="146.36" x2="673.2" y2="146.36" stroke="#000" stroke-width="2"/>
<line x1="72" y1="101.93" x2="77" y2="101.93" stroke="#000" stroke-width="2"/>
<line x1="668.2" y1="101.93" x2="673.2" y2="101.93" stroke="#000" stroke-width="2"/>
<line x1="67" y1="57.50" x2="77" y2="57.50" stroke="#000" stroke-width="2"/>
<line x1="663.2" y1="57.50" x2="673.2" y2="57.50" stroke="#000" stroke-width="2"/>
<line x1="72" y1="13.07" x2="77" y2="13.07" stroke="#000" stroke-width="2"/>
<line x1="668.2" y1="13.07" x2="673.2" y2="13.07" stroke="#000" stroke-width="2"/>
<text x="77.00" y="535.6" text-anchor="middle" class="tl">-2</text>
<text x="196.24" y="535.6" text-anchor="middle" class="tl">-1</text>
<text x="315.48" y="535.6" text-anchor="middle" class="tl">0</text>
<text x="434.72" y="535.6" text-anchor="middle" class="tl">1</text>
<text x="553.96" y="535.6" text-anchor="middle" class="tl">2</text>
<text x="673.20" y="535.6" text-anchor="middle" class="tl">3</text>
<text x="60" y="508.70" text-anchor="end" class="tl">38</text>
<text x="60" y="419.84" text-anchor="end" class="tl">40</text>
<text x="60" y="330.98" text-anchor="end" class="tl">42</text>
<text x="60" y="242.12" text-anchor="end" class="tl">44</text>
<text x="60" y="153.26" text-anchor="end" class="tl">46</text>
<text x="60" y="64.40" text-anchor="end" class="tl">48</text>

<g transform="translate(0,572.5) scale(1,1.02)"><text x="275" y="0" class="at">Log SFR (</text>
<text x="387.7" y="0" class="at" font-style="italic">M</text>
<text x="431.3" y="0" class="at">yr</text>
<text x="468" y="0" class="at">)</text></g>
<text x="454" y="560.8" style="font-size:17px">-1</text>
<circle cx="417" cy="573.3" r="5.9" fill="none" stroke="#000" stroke-width="1.5"/>
<circle cx="417" cy="573.3" r="1.4" fill="#000"/>
<g transform="translate(21.8,390.3) rotate(-90)"><text x="0" y="0" class="at">Log <tspan font-style="italic">L</tspan><tspan style="font-size:17.5px" dy="6.6">AGN</tspan><tspan dy="-6.6"> (erg/s)</tspan></text></g>

</svg>
</body></html>
